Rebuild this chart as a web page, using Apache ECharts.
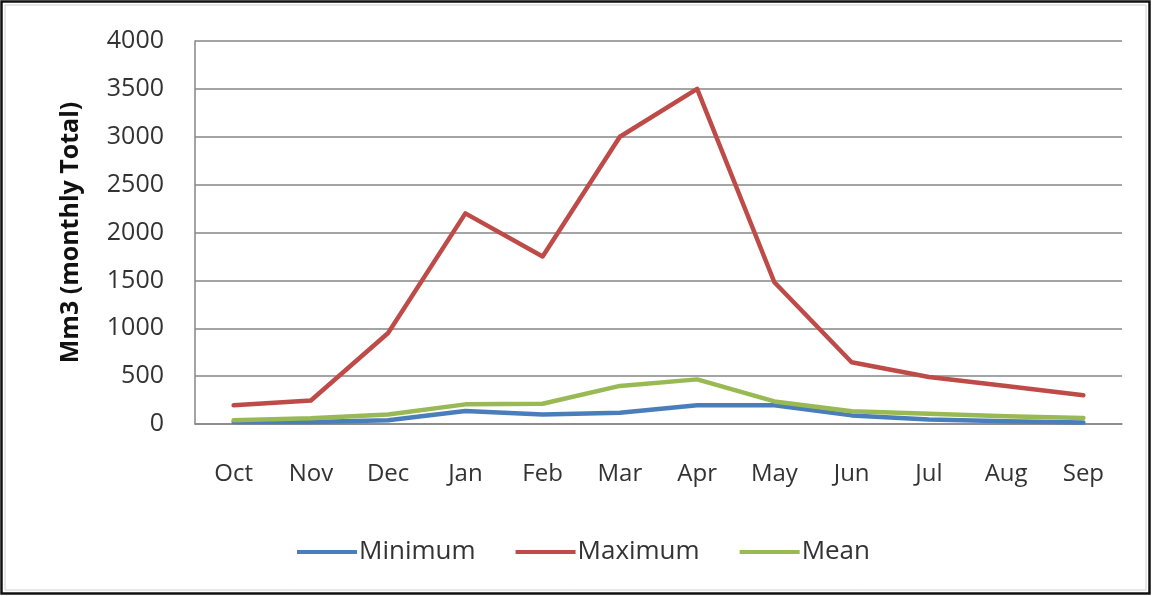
<!DOCTYPE html>
<html>
<head>
<meta charset="utf-8">
<script src="https://cdn.jsdelivr.net/npm/echarts@6/dist/echarts.min.js"></script>
<style>
  html, body { margin: 0; padding: 0; background: #ffffff; }
  #chart { width: 1152px; height: 596px; }
</style>
</head>
<body>
<div id="chart"></div>
<script>
// Monthly volumes (Mm3), October through September
const months = ['Oct', 'Nov', 'Dec', 'Jan', 'Feb', 'Mar', 'Apr', 'May', 'Jun', 'Jul', 'Aug', 'Sep'];
const minimum = [20, 22, 40, 135, 100, 118, 195, 195, 90, 48, 28, 15];
const maximum = [195, 245, 950, 2200, 1750, 3000, 3500, 1480, 645, 490, 398, 300];
const mean = [40, 60, 100, 205, 212, 398, 466, 236, 134, 108, 82, 63];

const chart = echarts.init(document.getElementById('chart'), null, { renderer: 'canvas' });
const font = '"Open Sans", "Liberation Sans", sans-serif';

function lineSeries(name, data, color) {
  return {
    name: name,
    type: 'line',
    data: data,
    symbol: 'none',
    lineStyle: { color: color, width: 4.5, cap: 'round', join: 'round' },
    itemStyle: { color: color }
  };
}

chart.setOption({
  animation: false,
  backgroundColor: '#ffffff',
  graphic: [{
    type: 'rect',
    shape: { x: 1.5, y: 1.5, width: 1148, height: 592 },
    style: { fill: 'none', stroke: '#111111', lineWidth: 2.5 },
    silent: true
  }, {
    type: 'rect',
    shape: { x: 5, y: 5, width: 1141, height: 585 },
    style: { fill: 'none', stroke: '#d0d0d0', lineWidth: 1 },
    silent: true
  }],
  grid: { left: 195, right: 30, top: 41, bottom: 172 },
  legend: {
    top: 534,
    left: 292,
    icon: 'rect',
    itemWidth: 60,
    itemHeight: 4,
    itemGap: 40,
    textStyle: { fontFamily: font, fontSize: 26, color: '#333333', padding: [0, 0, 0, -3] },
    data: ['Minimum', 'Maximum', 'Mean']
  },
  xAxis: {
    type: 'category',
    data: months,
    boundaryGap: true,
    axisLine: { lineStyle: { color: '#868686', width: 1.5 } },
    axisTick: { show: false },
    axisLabel: { fontFamily: font, fontSize: 24, color: '#333333', margin: 38 }
  },
  yAxis: {
    type: 'value',
    min: 0,
    max: 4000,
    interval: 500,
    name: 'Mm3 (monthly Total)',
    nameLocation: 'middle',
    nameGap: 112,
    nameTextStyle: { fontFamily: font, fontSize: 25, fontWeight: 'bold', color: '#111111' },
    axisLine: { show: true, lineStyle: { color: '#868686', width: 1.5 } },
    axisTick: { show: false },
    splitLine: { lineStyle: { color: '#868686', width: 1.5 } },
    axisLabel: {
      fontFamily: font, fontSize: 25, color: '#333333', margin: 31,
      formatter: function (v) { return String(v); }
    }
  },
  series: [
    lineSeries('Minimum', minimum, '#4a7ebb'),
    lineSeries('Maximum', maximum, '#be4b48'),
    lineSeries('Mean', mean, '#98b954')
  ]
});
</script>
</body>
</html>
